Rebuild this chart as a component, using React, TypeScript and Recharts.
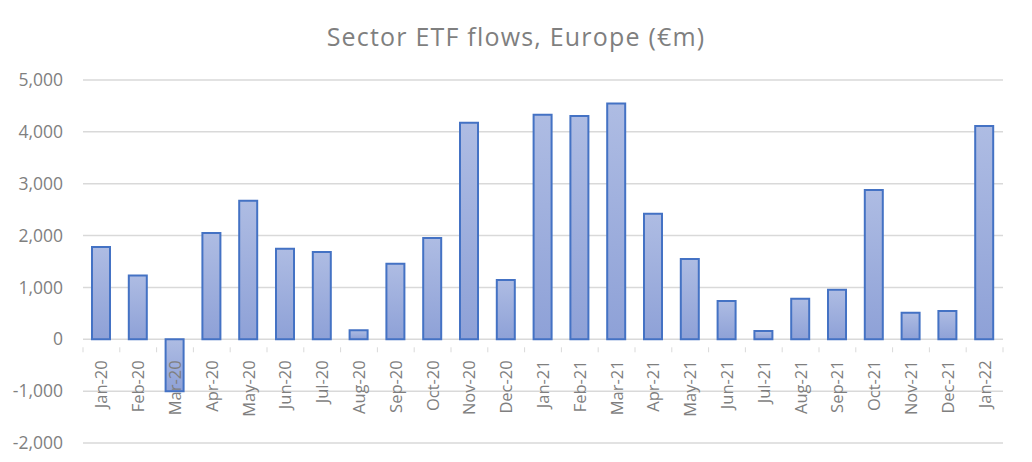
import React from "react";
import { BarChart, Bar, XAxis, YAxis, CartesianGrid } from "recharts";

const months = [
  "Jan-20", "Feb-20", "Mar-20", "Apr-20", "May-20", "Jun-20", "Jul-20", "Aug-20", "Sep-20", "Oct-20", "Nov-20", "Dec-20",
  "Jan-21", "Feb-21", "Mar-21", "Apr-21", "May-21", "Jun-21", "Jul-21", "Aug-21", "Sep-21", "Oct-21", "Nov-21", "Dec-21",
  "Jan-22",
];
const flows = [
  1780, 1230, -1000, 2050, 2670, 1745, 1685, 175, 1455, 1955, 4175, 1145,
  4330, 4305, 4545, 2420, 1550, 740, 160, 780, 955, 2880, 510, 545,
  4115,
];
const yTicks = [-2000, -1000, 0, 1000, 2000, 3000, 4000, 5000];
const yMin = -2000;
const yMax = 5000;

const data = months.map((m, i) => ({ month: m, value: flows[i] }));

const W = 1032;
const H = 462;
const X_AXIS_H = 19;
const M = { top: 80, right: 29, bottom: 0, left: 0 };
const Y_AXIS_W = 83;
const plotH = H - M.top - M.bottom - X_AXIS_H;
const plotW = W - M.left - M.right - Y_AXIS_W;
const band = plotW / months.length;
const zeroUp = (plotH * (0 - yMin)) / (yMax - yMin);

const fmt = (v: number) => v.toLocaleString("en-US");

const XTick = (props: any) => {
  const { x, y, payload, index } = props;
  const zy = y - zeroUp;
  return (
    <g>
      <line x1={x + band / 2} x2={x + band / 2} y1={zy} y2={zy + 5} stroke="#d9d9d9" strokeWidth={1} />
      {index === 0 && (
        <line x1={x - band / 2} x2={x - band / 2} y1={zy} y2={zy + 5} stroke="#d9d9d9" strokeWidth={1} />
      )}
      <text
        x={0}
        y={0}
        transform={`translate(${x},${zy + 13}) rotate(-90)`}
        textAnchor="end"
        dy="0.36em"
        fill="#7f7f7f"
        fontSize={16.5}
        fontFamily="'Open Sans', sans-serif"
      >
        {payload.value}
      </text>
    </g>
  );
};

export default function App() {
  return (
    <div style={{ position: "relative", margin: "-8px 0 0 -8px", width: W, height: H, background: "#fff" }}>
      <div
        style={{
          position: "absolute",
          left: 0,
          top: 19,
          width: W,
          textAlign: "center",
          fontFamily: "'Open Sans', sans-serif",
          fontSize: 25,
          letterSpacing: "1.2px",
          color: "#7f7f7f",
          lineHeight: "34px",
        }}
      >
        Sector ETF flows, Europe (€m)
      </div>
      <BarChart width={W} height={H} data={data} margin={M}>
        <defs>
          <linearGradient id="barGrad" x1="0" y1="0" x2="0" y2="1">
            <stop offset="0%" stopColor="#aebce3" />
            <stop offset="100%" stopColor="#8ea1d7" />
          </linearGradient>
        </defs>
        <CartesianGrid vertical={false} stroke="#d9d9d9" strokeWidth={1.5} />
        <XAxis
          dataKey="month"
          interval={0}
          axisLine={false}
          tickLine={false}
          height={X_AXIS_H}
          tick={<XTick />}
        />
        <YAxis
          width={Y_AXIS_W}
          domain={[yMin, yMax]}
          ticks={yTicks}
          tickFormatter={fmt}
          axisLine={false}
          tickLine={false}
          tick={{ fill: "#7f7f7f", fontSize: 17.5, fontFamily: "'Open Sans', sans-serif", dx: -12 }}
        />
        <Bar dataKey="value" barSize={18} fill="url(#barGrad)" stroke="#4472c4" strokeWidth={2} isAnimationActive={false} />
      </BarChart>
    </div>
  );
}
